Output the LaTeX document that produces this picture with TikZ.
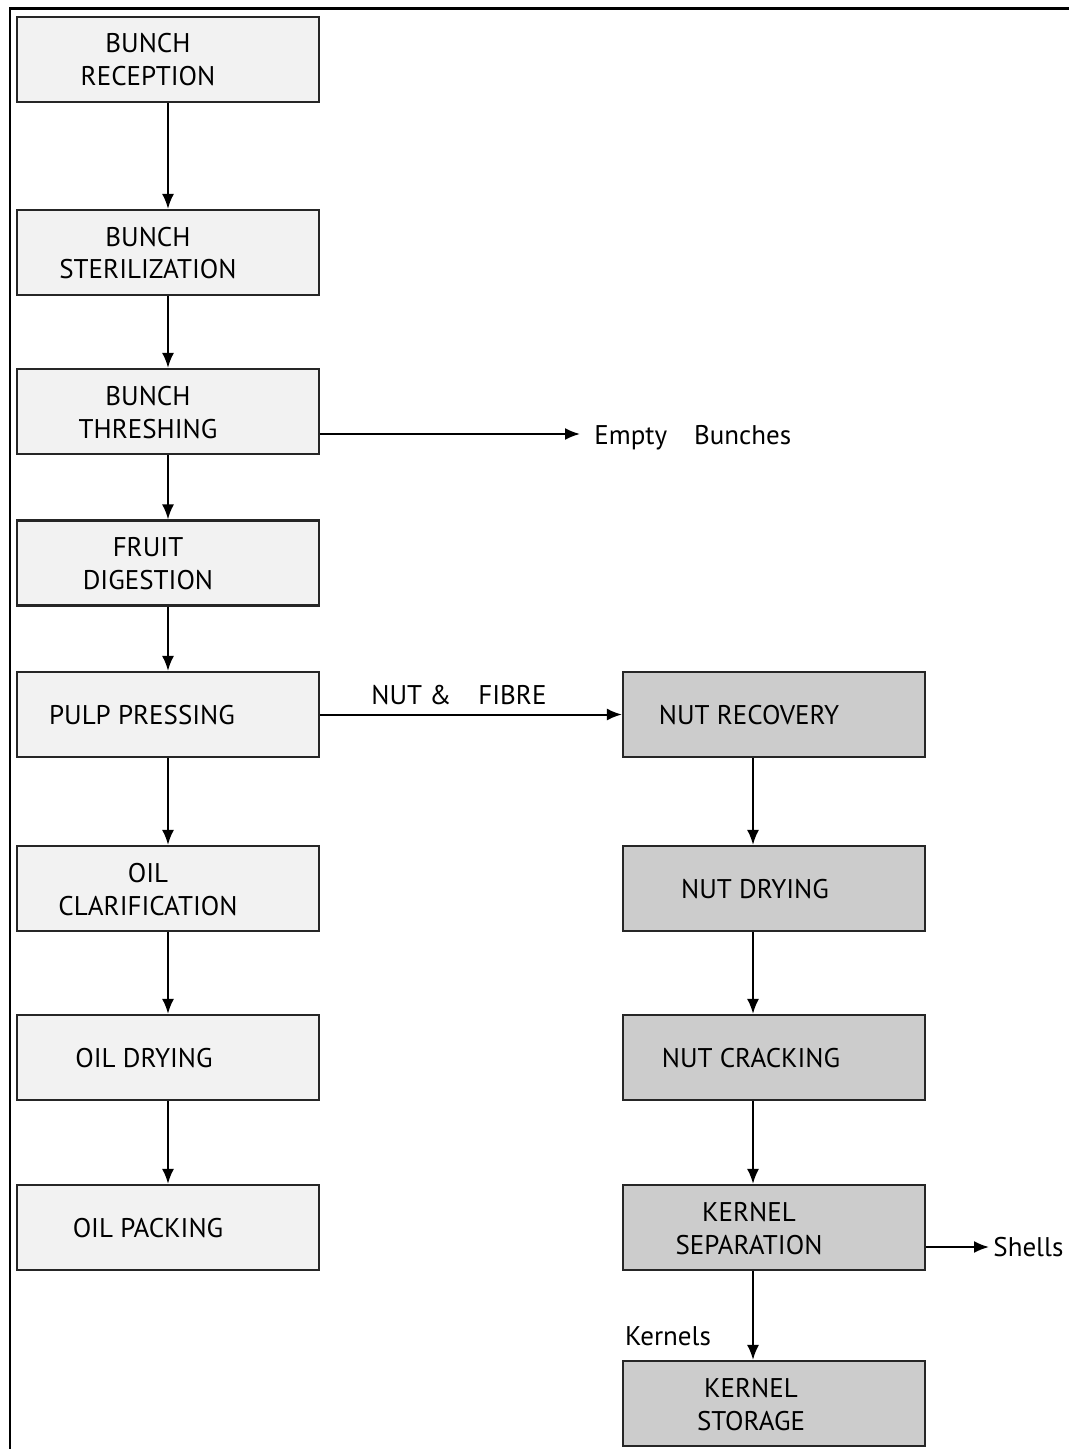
\documentclass[tikz,border=0pt]{standalone}
\usepackage{fontspec}
\setmainfont{PT Sans}
\usetikzlibrary{arrows.meta}
\newcommand{\boxtxt}[2][20pt]{\raisebox{-1.7pt}[\height][\depth]{\begin{tabular}{@{}c@{}}#2\end{tabular}}\kern#1\relax}

\begin{document}
\begin{tikzpicture}[x=0.5pt,y=-0.5pt,
  font=\fontsize{13.5}{16.5}\selectfont,
  stage/.style={draw=black!85,line width=1.1pt,minimum width=151pt,minimum height=42.5pt,
    inner sep=0pt,fill=black!5},
  nutstage/.style={stage,fill=black!20},
  flow/.style={line width=1pt,-{Latex[length=7.5pt,width=6pt]}}]
\useasboundingbox (0,0) rectangle (1069,1449);
\draw[line width=1.3pt] (1069,8.5)--(10,8.5)--(10,1449);
\node[stage] (b1) at (168,59.5) {\boxtxt{BUNCH\\RECEPTION}};
\node[stage] (b2) at (168,252.5) {\boxtxt{BUNCH\\STERILIZATION}};
\node[stage] (b3) at (168,411.5) {\boxtxt{BUNCH\\THRESHING}};
\node[stage] (b4) at (168,563) {\boxtxt{FRUIT\\DIGESTION}};
\node[stage] (b5) at (168,714.5) {\boxtxt[26pt]{PULP PRESSING}};
\node[stage] (b6) at (168,888.5) {\boxtxt{OIL\\CLARIFICATION}};
\node[stage] (b7) at (168,1057.5) {\boxtxt[24pt]{OIL DRYING}};
\node[stage] (b8) at (168,1227.5) {\boxtxt{OIL PACKING}};
\node[nutstage] (n1) at (774,714.5) {\boxtxt[25pt]{NUT RECOVERY}};
\node[nutstage] (n2) at (774,888.5) {\boxtxt[19pt]{NUT DRYING}};
\node[nutstage] (n3) at (774,1057.5) {\boxtxt[23pt]{NUT CRACKING}};
\node[nutstage] (n4) at (774,1227.5) {\boxtxt[25pt]{KERNEL\\SEPARATION}};
\node[nutstage] (n5) at (774,1403.5) {\boxtxt[23pt]{KERNEL\\STORAGE}};
\node[anchor=west,inner xsep=7pt,inner ysep=0pt] (eb) at (580,434) {\raisebox{-2pt}[\height][\depth]{Empty\quad Bunches}};
\node[anchor=west,inner xsep=2pt,inner ysep=0pt] (sh) at (989,1247) {Shells};
\node (kn) at (668,1336) {Kernels};
\foreach \a/\b in {b1/b2,b2/b3,b3/b4,b4/b5,b5/b6,b6/b7,b7/b8}
  \draw[flow] (\a.south) -- (\b.north);
\foreach \a/\b in {n1/n2,n2/n3,n3/n4,n4/n5}
  \draw[flow] ([xshift=-10.5pt]\a.south) -- ([xshift=-10.5pt]\b.north);
\draw[flow] (b3.east |- eb.west) -- (eb.west);
\draw[flow] (b5.east) -- node[above,pos=0.46,yshift=1pt]{NUT \&\quad FIBRE} (n1.west);
\draw[flow] (n4.east |- sh.west) -- (sh.west);
\end{tikzpicture}
\end{document}
